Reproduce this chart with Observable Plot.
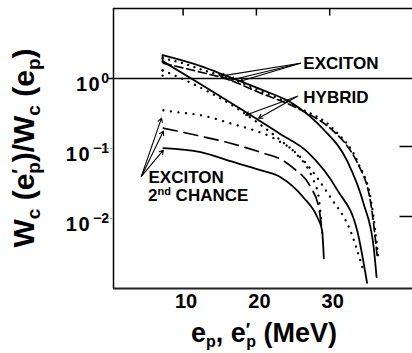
<!DOCTYPE html>
<html><head><meta charset="utf-8">
<script src="https://cdn.jsdelivr.net/npm/d3@7"></script>
<script src="https://cdn.jsdelivr.net/npm/@observablehq/plot@0.6"></script>
<style>html,body{margin:0;padding:0;background:#fff;overflow:hidden}</style>
</head><body><div id="chart"></div>
<script>
// ---- tick labels ----
const xTicks = [10, 20, 30];
const yTicks = [1, 0.1, 0.01];
const yTickExps = ["0", "\u22121", "\u22122"];

// ---- EXCITON (first chance) ----
const excSolidE = [7.2, 12.4, 16.0, 20.6, 25.1, 29.1, 32.4, 34.6, 36.0, 36.4];
const excSolidW = [2.15, 1.50, 1.08, 0.70, 0.43, 0.19, 0.066, 0.0166, 0.0039, 0.00145];
const excDashedE = [7.3, 12.4, 16.0, 20.6, 25.6, 30.5, 32.4, 33.8, 35.6, 36.5];
const excDashedW = [1.65, 1.23, 0.977, 0.617, 0.376, 0.177, 0.108, 0.0617, 0.0166, 0.0028];
const excDottedE = [7.2, 10.0, 12.8, 16.0, 20.6, 25.6, 30.8, 33.9, 35.7, 36.65];
const excDottedW = [1.95, 1.65, 1.31, 1.04, 0.659, 0.389, 0.177, 0.0617, 0.0166, 0.0027];

// ---- HYBRID ----
const hybSolidE = [7.2, 12.4, 19.2, 23.3, 27.0, 31.05, 33.8, 35.1];
const hybSolidW = [1.77, 0.83, 0.30, 0.16, 0.0886, 0.0254, 0.0064, 0.0012];
const hybDottedE = [7.2, 10.0, 13.3, 16.9, 19.9, 23.3, 26.4, 30.1, 32.8, 34.5];
const hybDottedW = [1.31, 0.977, 0.659, 0.402, 0.245, 0.131, 0.068, 0.0201, 0.0068, 0.00195];

// ---- EXCITON 2nd CHANCE ----
const secDottedE = [7.3, 9.2, 12.4, 16.9, 19.2, 22.6, 25.6, 27.6, 28.5, 28.9];
const secDottedW = [0.352, 0.330, 0.299, 0.222, 0.189, 0.136, 0.0802, 0.0389, 0.0201, 0.0080];
const secDashedE = [7.3, 12.4, 16.45, 20.95, 23.3, 25.05, 27.4, 28.5, 29.0];
const secDashedW = [0.195, 0.150, 0.119, 0.0857, 0.0703, 0.0523, 0.028, 0.0145, 0.0062];
const secSolidE = [7.3, 12.4, 16.45, 20.55, 23.3, 26.4, 28.3, 28.96, 29.2];
const secSolidW = [0.101, 0.0886, 0.0659, 0.049, 0.0389, 0.0201, 0.0105, 0.0068, 0.0027];

// start steps at the threshold
const stepE = [7.2, 7.2];
const stepW1 = [1.65, 1.08];
const stepW2 = [2.15, 1.31];

// leader arrows (label -> curve)
const excArrowFrom = [26.0, 1.65];
const excArrowToE = [15.1, 16.45, 17.8];
const excArrowToW = [1.08, 0.946, 0.915];
const hybArrowFrom = [25.6, 0.557];
const hybArrowToE = [18.5, 20.3];
const hybArrowToW = [0.298, 0.271];
const secArrowFrom = [4.3, 0.0399];
const secArrowToE = [7.05, 7.3, 7.3];
const secArrowToW = [0.271, 0.177, 0.0946];

const font = "'Liberation Sans', Arial, Helvetica, sans-serif";
const pts = (E, W) => E.map((e, i) => ({e, w: W[i]}));
const arrows = (from, E, W) => E.map((e, i) => ({x1: from[0], y1: from[1], x2: e, y2: W[i]}));

const solid = {x: "e", y: "w", stroke: "black", strokeWidth: 1.8, curve: "monotone-x"};
const dotted = {x: "e", y: "w", stroke: "black", strokeWidth: 2.3, strokeDasharray: "0.1 6.5", strokeLinecap: "round", curve: "monotone-x"};

const chart = Plot.plot({
  width: 412, height: 353,
  marginLeft: 113, marginRight: 0, marginTop: 8, marginBottom: 65,
  x: {domain: [0.5, 41.3], axis: null},
  y: {type: "log", domain: [1e-3, 10], axis: null},
  style: {fontFamily: font, background: "white", overflow: "visible"},
  marks: [
    // frame
    Plot.ruleX([0.5], {y1: 1e-3, y2: 10, stroke: "black", strokeWidth: 1.5}),
    Plot.ruleY([10], {x1: 0.5, x2: 41.3, stroke: "black", strokeWidth: 1.5}),
    Plot.ruleY([1e-3], {x1: 0.5, x2: 41.3, stroke: "#222", strokeWidth: 2}),
    Plot.ruleY([1], {x1: -0.2, x2: 41.3, stroke: "black", strokeWidth: 1.5}),
    Plot.ruleY([0.1, 0.01], {x1: -1.3, x2: 0.5, stroke: "#888", strokeWidth: 1, strokeDasharray: "2 1.5"}),
    Plot.ruleY([0.1, 0.01], {x1: 39.6, x2: 41.3, dy: -2, stroke: "black", strokeWidth: 1.5}),
    Plot.ruleX(xTicks, {y1: 10, y2: 7.8, stroke: "black", strokeWidth: 1.5}),
    // x tick labels
    Plot.text(xTicks, {x: d => d, y: 1e-3, text: d => String(d), dy: 13, dx: 3, fontSize: 20, fontWeight: "bold", fill: "black", style: "letter-spacing:1.5px"}),
    // curves
    Plot.line(pts(excSolidE, excSolidW), solid),
    Plot.line(pts(excDashedE, excDashedW), {...solid, strokeWidth: 1.7, strokeDasharray: "8 4"}),
    Plot.line(pts(excDottedE, excDottedW), dotted),
    Plot.line(pts(hybSolidE, hybSolidW), solid),
    Plot.line(pts(hybDottedE, hybDottedW), {...dotted, strokeDasharray: "0.1 7"}),
    Plot.line(pts(secDottedE, secDottedW), {...dotted, strokeDasharray: "0.1 7.5"}),
    Plot.line(pts(secDashedE, secDashedW), {...solid, strokeWidth: 1.7, strokeDasharray: "14 7"}),
    Plot.line(pts(secSolidE, secSolidW), solid),
    Plot.ruleX([0], {x: () => stepE[0], y1: stepW1[0], y2: stepW2[0], stroke: "black", strokeWidth: 1.8}),
    Plot.ruleX([0], {x: () => stepE[1], y1: stepW1[1], y2: stepW2[1], stroke: "black", strokeWidth: 2.3, strokeDasharray: "0.1 5", strokeLinecap: "round"}),
    // leaders
    Plot.arrow(arrows(excArrowFrom, excArrowToE, excArrowToW), {x1: "x1", y1: "y1", x2: "x2", y2: "y2", stroke: "black", strokeWidth: 1.1, headLength: 6}),
    Plot.arrow(arrows(hybArrowFrom, hybArrowToE, hybArrowToW), {x1: "x1", y1: "y1", x2: "x2", y2: "y2", stroke: "black", strokeWidth: 1.1, headLength: 6}),
    Plot.arrow(arrows(secArrowFrom, secArrowToE, secArrowToW), {x1: "x1", y1: "y1", x2: "x2", y2: "y2", stroke: "black", strokeWidth: 1.1, headLength: 6}),
    // labels
    Plot.text(["EXCITON"], {x: 26.4, y: 1.655, text: d => d, textAnchor: "start", fontSize: 17, fontWeight: "bold", fill: "black"}),
    Plot.text(["HYBRID"], {x: 26.4, y: 0.541, text: d => d, textAnchor: "start", fontSize: 17, fontWeight: "bold", fill: "black"}),
    Plot.text(["EXCITON"], {x: 5.27, y: 0.0383, text: d => d, textAnchor: "start", fontSize: 17, fontWeight: "bold", fill: "black"})
  ]
});

const sx = chart.scale("x"), sy = chart.scale("y");
const svg = d3.select(chart);

// y tick labels 10^n
yTicks.forEach((v, i) => {
  const t = svg.append("text")
    .attr("x", sx.apply(0.5) - 4).attr("y", sy.apply(v) + 12.5)
    .attr("text-anchor", "end").attr("font-family", font).attr("font-weight", "bold").attr("fill", "black");
  t.append("tspan").attr("font-size", 20).style("letter-spacing", "1.5px").text("10");
  t.append("tspan").attr("font-size", 14).attr("dy", -8).attr("dx", i ? 2 : 0).text(yTickExps[i]);
});

// "2nd CHANCE"
{
  const t = svg.append("text").attr("x", sx.apply(5.27)).attr("y", sy.apply(0.0215) + 6)
    .attr("text-anchor", "start")
    .attr("font-family", font).attr("font-weight", "bold").attr("fill", "black").attr("font-size", 17);
  t.append("tspan").text("2");
  t.append("tspan").attr("font-size", 11).attr("dy", -6).text("nd");
  t.append("tspan").attr("dy", 6).text(" CHANCE");
}

// x-axis title
{
  const t = svg.append("text").attr("x", 264).attr("y", 342).attr("text-anchor", "middle")
    .attr("font-family", font).attr("font-weight", "bold").attr("fill", "black").attr("font-size", 27);
  t.append("tspan").text("e");
  t.append("tspan").attr("font-size", 16).attr("dy", 5).text("p");
  t.append("tspan").attr("dy", -5).text(", e");
  t.append("tspan").attr("font-size", 18).attr("dy", -6).text("\u2032");
  t.append("tspan").attr("font-size", 16).attr("dy", 11).attr("dx", -4).text("p");
  t.append("tspan").attr("dy", -5).text(" (MeV)");
}

// y-axis title (rotated)
{
  const t = svg.append("text").attr("transform", "translate(34,148) rotate(-90)").attr("text-anchor", "middle")
    .attr("font-family", font).attr("font-weight", "bold").attr("fill", "black").attr("font-size", 30);
  const sub = (s) => { t.append("tspan").attr("font-size", 19).attr("dy", 6).text(s); };
  const back = (s) => { t.append("tspan").attr("dy", -6).text(s); };
  t.append("tspan").text("W");
  sub("c");
  back(" (e");
  t.append("tspan").attr("font-size", 20).attr("dy", -8).text("\u2032");
  t.append("tspan").attr("font-size", 19).attr("dy", 14).attr("dx", -5).text("p");
  back(")/W");
  sub("c");
  back(" (e");
  sub("p");
  back(")");
}

document.getElementById("chart").appendChild(chart);
</script>
</body></html>
